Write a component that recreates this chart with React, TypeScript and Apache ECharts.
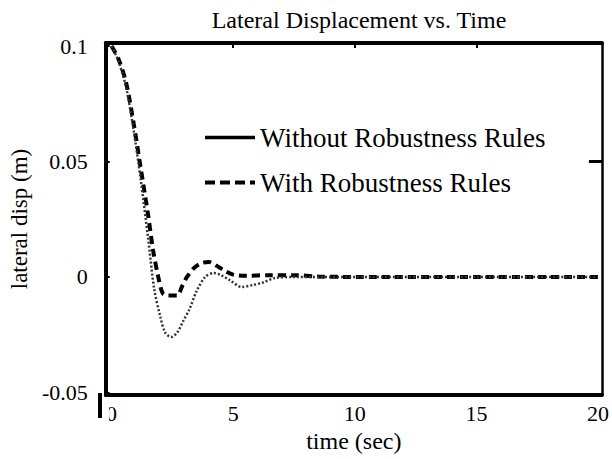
import React, { useEffect, useRef } from "react";
import * as echarts from "echarts";

const titleText = "Lateral Displacement vs. Time";
const xName = "time (sec)";
const yName = "lateral disp (m)";
const seriesNames = ["Without Robustness Rules", "With Robustness Rules"];
const xTicks = [0, 5, 10, 15, 20];
const yTicks = [-0.05, 0, 0.05, 0.1];

// Without robustness rules (dotted in plot)
const withoutT = [0, 0.3, 0.6, 0.9, 1.2, 1.5, 1.75, 2.0, 2.2, 2.45, 2.7, 2.95, 3.2, 3.5, 3.85, 4.2, 4.5, 4.85, 5.35, 5.8, 6.2, 6.7, 7.5, 10, 15, 20];
const withoutV = [0.1, 0.093, 0.082, 0.064, 0.042, 0.017, -0.005, -0.017, -0.024, -0.026, -0.024, -0.019, -0.014, -0.006, 0.0, 0.0017, 0.0008, -0.0013, -0.0043, -0.0035, -0.0025, -0.0005, 0, 0, 0, 0];

// With robustness rules (dashed)
const withT = [0, 0.3, 0.6, 0.9, 1.2, 1.5, 1.7, 1.9, 2.1, 2.3, 2.7, 2.9, 3.1, 3.4, 3.7, 4.0, 4.3, 4.6, 5.0, 5.5, 6.5, 7.5, 8.5, 10, 15, 20];
const withV = [0.1, 0.094, 0.084, 0.067, 0.047, 0.027, 0.012, 0.001, -0.007, -0.008, -0.008, -0.004, 0.0, 0.004, 0.006, 0.0065, 0.005, 0.003, 0.001, 0.0005, 0.0008, 0.0008, 0.0002, 0, 0, 0];

const FONT = "'Liberation Serif', 'Times New Roman', serif";

export default function App() {
  const ref = useRef<HTMLDivElement>(null);
  useEffect(() => {
    if (!ref.current) return;
    const chart = echarts.init(ref.current, null, { renderer: "svg" });
    const pairs = (t: number[], v: number[]) => t.map((x, i) => [x, v[i]]);
    chart.setOption({
      animation: false,
      backgroundColor: "#fff",
      title: {
        text: titleText,
        left: 354,
        top: 3,
        textAlign: "center",
        textStyle: { fontFamily: FONT, fontSize: 24, fontWeight: "normal", color: "#000" },
      },
      legend: {
        orient: "vertical",
        left: 203,
        top: 124,
        padding: 0,
        itemGap: 18,
        itemWidth: 50,
        itemHeight: 14,
        textStyle: { fontFamily: FONT, fontSize: 27, color: "#000" },
        data: [
          { name: seriesNames[0], itemStyle: { opacity: 0 }, lineStyle: { type: "solid", color: "#000", width: 3.5 } },
          { name: seriesNames[1], itemStyle: { opacity: 0 }, lineStyle: { type: [10, 5], color: "#000", width: 4 } },
        ],
      },
      grid: { left: 100, right: 2, top: 43, bottom: 64, show: false },
      xAxis: [
        {
          type: "value",
          min: -0.24,
          max: 20.16,
          position: "bottom",
          name: xName,
          nameLocation: "middle",
          nameGap: 32,
          nameTextStyle: { fontFamily: FONT, fontSize: 24, color: "#000" },
          axisLine: { show: true, onZero: false, lineStyle: { color: "#000", width: 4 } },
          axisTick: { show: false },
          axisLabel: {
            customValues: xTicks,
            fontFamily: FONT,
            fontSize: 22,
            color: "#000",
            margin: 7,
            showMinLabel: true,
            showMaxLabel: true,
          },
          splitLine: { show: false },
        },
        {
          type: "value",
          min: -0.24,
          max: 20.16,
          position: "top",
          axisLine: { show: true, onZero: false, lineStyle: { color: "#000", width: 4 } },
          axisTick: { show: true, inside: true, length: 5, customValues: [5, 10, 15], lineStyle: { color: "#000", width: 2 } },
          axisLabel: { show: false },
          splitLine: { show: false },
        },
      ],
      yAxis: [
        {
          type: "value",
          min: -0.0511,
          max: 0.1013,
          position: "left",
          name: yName,
          nameLocation: "middle",
          nameGap: 66,
          nameTextStyle: { fontFamily: FONT, fontSize: 23, color: "#000" },
          axisLine: { show: true, onZero: false, lineStyle: { color: "#000", width: 4 } },
          axisTick: { show: true, inside: true, length: 4, customValues: yTicks, lineStyle: { color: "#000", width: 2 } },
          axisLabel: {
            customValues: yTicks,
            fontFamily: FONT,
            fontSize: 22,
            color: "#000",
            margin: 18,
            formatter: (v: number) => String(parseFloat(v.toFixed(3))),
          },
          splitLine: { show: false },
        },
        {
          type: "value",
          min: -0.0511,
          max: 0.1013,
          position: "right",
          axisLine: { show: true, onZero: false, lineStyle: { color: "#000", width: 2.5 } },
          axisTick: { show: true, inside: true, length: 13, customValues: [0.05], lineStyle: { color: "#000", width: 3 } },
          axisLabel: { show: false },
          splitLine: { show: false },
        },
      ],
      graphic: [
        { type: "rect", z: 100, shape: { x: 94, y: 398, width: 15, height: 28 }, style: { fill: "#fff" } },
        { type: "line", z: 101, shape: { x1: 100, y1: 393, x2: 100, y2: 418 }, style: { stroke: "#000", lineWidth: 4 } },
      ],
      series: [
        {
          name: seriesNames[1],
          type: "line",
          symbol: "none",
          smooth: 0.3,
          data: pairs(withT, withV),
          itemStyle: { color: "#000" },
          lineStyle: { color: "#000", width: 4, type: [8, 5] },
          z: 2,
        },
        {
          name: seriesNames[0],
          type: "line",
          symbol: "none",
          smooth: 0.3,
          data: pairs(withoutT, withoutV),
          itemStyle: { color: "#000" },
          lineStyle: { color: "#333", width: 2.5, type: [2, 2] },
          z: 3,
        },
      ],
    });
    return () => chart.dispose();
  }, []);
  return <div ref={ref} style={{ width: 612, height: 459, position: "absolute", left: 0, top: 0 }} />;
}
